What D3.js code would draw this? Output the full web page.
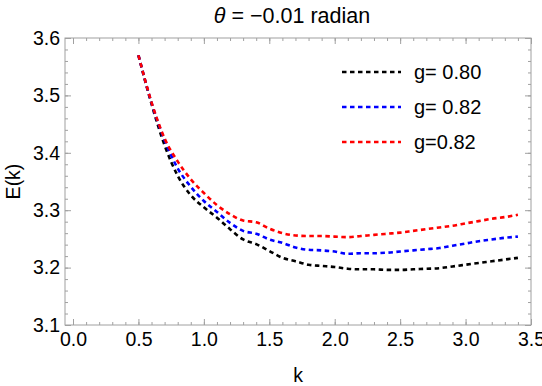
<!DOCTYPE html>
<html>
<head>
<meta charset="utf-8">
<script src="https://cdn.jsdelivr.net/npm/d3@7"></script>
<style>
  body { margin: 0; background: #fff; }
  text { font-family: "Liberation Sans", Arial, sans-serif; fill: #000; }
</style>
</head>
<body>
<script>
// k values (x axis)
var kValues = [0.5, 0.6, 0.7, 0.8, 0.9, 1.0, 1.1, 1.2, 1.3, 1.4, 1.5, 1.6, 1.7, 1.8, 1.9,
               2.0, 2.1, 2.2, 2.3, 2.4, 2.5, 2.6, 2.7, 2.8, 2.9, 3.0, 3.1, 3.2, 3.3, 3.4];

// E(k) for each curve
var eBlack = [3.570, 3.485, 3.413, 3.360, 3.326, 3.305, 3.287, 3.267, 3.249, 3.241, 3.229, 3.217, 3.211, 3.205, 3.203,
              3.201, 3.198, 3.197, 3.197, 3.196, 3.196, 3.197, 3.198, 3.199, 3.202, 3.205, 3.208, 3.211, 3.214, 3.217];
var eBlue  = [3.570, 3.487, 3.422, 3.373, 3.341, 3.316, 3.297, 3.278, 3.264, 3.259, 3.249, 3.243, 3.235, 3.231, 3.230,
              3.228, 3.224, 3.225, 3.225, 3.226, 3.228, 3.230, 3.232, 3.234, 3.238, 3.242, 3.246, 3.249, 3.252, 3.254];
var eRed   = [3.570, 3.488, 3.425, 3.385, 3.354, 3.330, 3.309, 3.293, 3.282, 3.279, 3.268, 3.260, 3.256, 3.255, 3.255,
              3.254, 3.253, 3.255, 3.257, 3.259, 3.261, 3.264, 3.267, 3.270, 3.273, 3.277, 3.281, 3.285, 3.288, 3.292];

var seriesNames  = ["g= 0.80", "g= 0.82", "g=0.82"];
var seriesColors = ["#000000", "#0000ff", "#ff0000"];
var seriesValues = [eBlack, eBlue, eRed];

var xTicks = [0.0, 0.5, 1.0, 1.5, 2.0, 2.5, 3.0, 3.5];
var yTicks = [3.1, 3.2, 3.3, 3.4, 3.5, 3.6];

// dimensions of the frame
var W = 542, H = 386;
var frame = {left: 65, right: 531, top: 38, bottom: 325};
var fontSize = "19.5px";

var svg = d3.select("body").append("svg")
    .attr("width", W)
    .attr("height", H);

// scales: frame starts a bit left of 0 like Mathematica padding
var x = d3.scaleLinear().domain([-0.0612, 3.5]).range([frame.left, frame.right]);
var y = d3.scaleLinear().domain([3.1, 3.6]).range([frame.bottom, frame.top]);

var frameColor = "#a0a0a0";

// minor ticks
var xMinor = d3.range(0, 35.01, 1).map(function(d){ return d / 10; });
var yMinor = d3.range(155, 180.01, 1).map(function(d){ return d / 50; });

function tickOnly(g) {
    g.select(".domain").remove();
    g.selectAll("line").attr("stroke", frameColor);
}

// bottom axis
svg.append("g")
    .attr("transform", "translate(0," + frame.bottom + ")")
    .call(d3.axisBottom(x).tickValues(xMinor).tickSize(-3).tickFormat(""))
    .call(tickOnly);
svg.append("g")
    .attr("transform", "translate(0," + frame.bottom + ")")
    .call(d3.axisBottom(x).tickValues(xTicks).tickSize(-6).tickPadding(9).tickFormat(d3.format(".1f")))
    .call(function(g){
        tickOnly(g);
        g.selectAll("text").style("font-size", fontSize).attr("y", 7);
    });

// top axis (ticks only)
svg.append("g")
    .attr("transform", "translate(0," + frame.top + ")")
    .call(d3.axisTop(x).tickValues(xMinor).tickSize(-3).tickFormat(""))
    .call(tickOnly);
svg.append("g")
    .attr("transform", "translate(0," + frame.top + ")")
    .call(d3.axisTop(x).tickValues(xTicks).tickSize(-6).tickFormat(""))
    .call(tickOnly);

// left axis
svg.append("g")
    .attr("transform", "translate(" + frame.left + ",0)")
    .call(d3.axisLeft(y).tickValues(yMinor).tickSize(-3).tickFormat(""))
    .call(tickOnly);
svg.append("g")
    .attr("transform", "translate(" + frame.left + ",0)")
    .call(d3.axisLeft(y).tickValues(yTicks).tickSize(-6).tickFormat(d3.format(".1f")))
    .call(function(g){
        tickOnly(g);
        g.selectAll("text").style("font-size", fontSize).attr("x", -5);
    });

// right axis (ticks only)
svg.append("g")
    .attr("transform", "translate(" + frame.right + ",0)")
    .call(d3.axisRight(y).tickValues(yMinor).tickSize(-3).tickFormat(""))
    .call(tickOnly);
svg.append("g")
    .attr("transform", "translate(" + frame.right + ",0)")
    .call(d3.axisRight(y).tickValues(yTicks).tickSize(-6).tickFormat(""))
    .call(tickOnly);

// frame
svg.append("rect")
    .attr("x", frame.left)
    .attr("y", frame.top)
    .attr("width", frame.right - frame.left)
    .attr("height", frame.bottom - frame.top)
    .attr("fill", "none")
    .attr("stroke", frameColor)
    .attr("stroke-width", 1);

// curves
var line = d3.line()
    .x(function(d){ return x(d[0]); })
    .y(function(d){ return y(d[1]); })
    .curve(d3.curveMonotoneX);

seriesValues.forEach(function(vals, i) {
    var pts = kValues.map(function(k, j){ return [k, vals[j]]; });
    svg.append("path")
        .datum(pts)
        .attr("d", line)
        .attr("fill", "none")
        .attr("stroke", seriesColors[i])
        .attr("stroke-width", 2.6)
        .attr("stroke-dasharray", "4.5,3.5");
});

// legend
seriesNames.forEach(function(name, i) {
    var ly = 72 + i * 35;
    svg.append("line")
        .attr("x1", 342).attr("x2", 401)
        .attr("y1", ly).attr("y2", ly)
        .attr("stroke", seriesColors[i])
        .attr("stroke-width", 2.6)
        .attr("stroke-dasharray", "4.5,3.5");
    svg.append("text")
        .attr("x", 414)
        .attr("y", ly + 7)
        .style("font-size", "20px")
        .text(name);
});

// title
var title = svg.append("text")
    .attr("x", (frame.left + frame.right) / 2 - 6)
    .attr("y", 23)
    .attr("text-anchor", "middle")
    .style("font-size", "21.5px");
title.append("tspan").style("font-style", "italic").text("\u03b8");
title.append("tspan").text(" = \u22120.01 radian");

// axis labels
svg.append("text")
    .attr("x", (frame.left + frame.right) / 2)
    .attr("y", 382)
    .attr("text-anchor", "middle")
    .style("font-size", fontSize)
    .text("k");

svg.append("text")
    .attr("transform", "translate(20," + ((frame.top + frame.bottom) / 2) + ") rotate(-90)")
    .attr("text-anchor", "middle")
    .style("font-size", fontSize)
    .text("E(k)");
</script>
</body>
</html>
